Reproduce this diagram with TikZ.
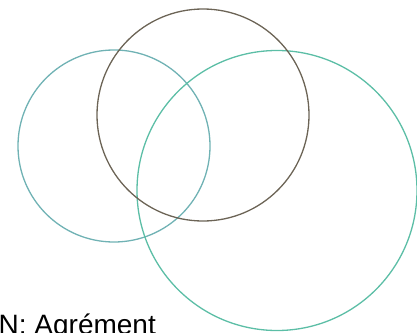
\documentclass[tikz,border=0pt]{standalone}
\usepackage{fontspec}
\setmainfont{Liberation Sans}
\begin{document}
\begin{tikzpicture}[x=1pt,y=-1pt,
  ring/.style={line width=1.3pt}]
\definecolor{tealA}{RGB}{112,178,180}
\definecolor{brownB}{RGB}{108,100,86}
\definecolor{tealC}{RGB}{92,190,166}
\useasboundingbox (0,0) rectangle (417,332);
\draw[ring,tealA] (114,146) circle[radius=96];
\draw[ring,tealC] (277,190.5) circle[radius=140];
\draw[ring,brownB] (203,115) circle[radius=106];
\node[anchor=base west,inner sep=0pt,font=\fontsize{28}{30}\selectfont] (lbl) at (-1.5,334) {N: Agrément};
\end{tikzpicture}
\end{document}
